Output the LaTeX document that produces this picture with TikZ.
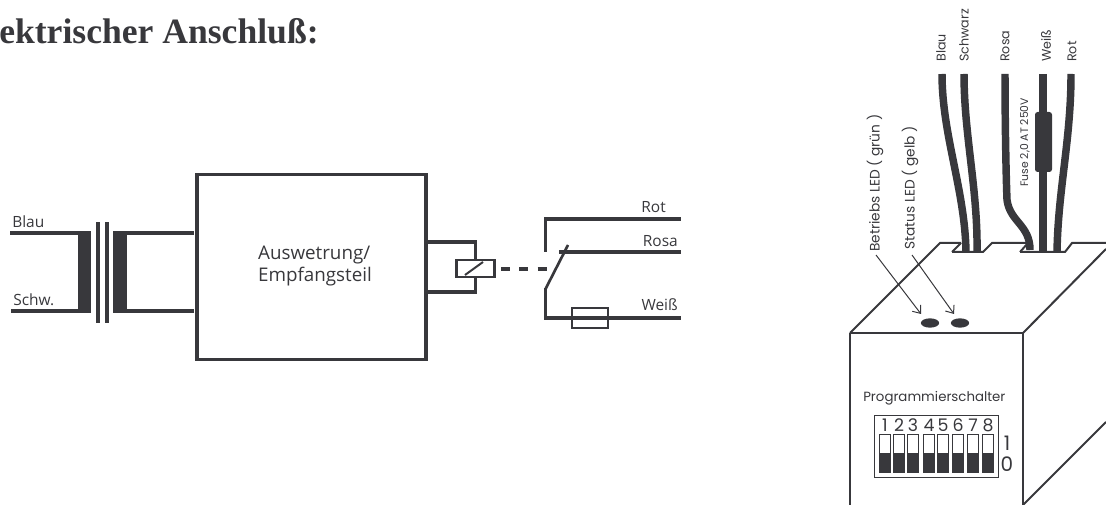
\documentclass[tikz,border=0pt]{standalone}
\usepackage{fontspec}
\setmainfont{Open Sans}
\newfontfamily\titlefont{Liberation Serif}
\newfontfamily\gothicfont{Poppins}
\usetikzlibrary{arrows.meta,shapes}
\definecolor{ink}{HTML}{38383C}
\tikzset{thin line/.style={draw=ink,line width=1.5pt},}
\tikzset{main line/.style={draw=ink,line width=2.5pt},}
\tikzset{main label/.style={text=ink,font=\fontsize{11.6}{13}\selectfont,inner sep=0pt},}
\tikzset{wire line/.style={draw=ink,line width=5.6pt},}
\tikzset{side label/.style={text=ink,font=\gothicfont\fontsize{9.5}{11}\selectfont,inner sep=0pt,rotate=90,anchor=west},}
\tikzset{led label/.style={side label,font=\gothicfont\fontsize{10.3}{12}\selectfont},}
\tikzset{dip label/.style={text=ink,font=\gothicfont\fontsize{13}{15}\selectfont,inner sep=0pt},}
\tikzset{dip off/.style={draw=ink,line width=0.6pt,fill=white,minimum width=8pt,minimum height=29pt,inner sep=0pt},}
\tikzset{led node/.style={ellipse,fill=ink,minimum width=13.7pt,minimum height=7pt,inner sep=0pt},}
\tikzset{led arrow/.style={draw=ink,line width=0.75pt,-{Straight Barb[length=5pt,width=8pt]}},}
\begin{document}
\begin{tikzpicture}[x=0.75pt,y=-0.75pt]
    \useasboundingbox (0,0) rectangle (1106,505);
    \node[inner sep=0pt,anchor=base west,text=ink,font=\titlefont\bfseries\fontsize{26.7}{30}\selectfont] (title) at (-1,44) {ektrischer Anschluß:};

    % transformer
    \node[main label,anchor=base west] (blau) at (12,228) {Blau};
    \node[main label,anchor=base west] (schw) at (13,306) {Schw.};
    \coordinate (b1) at (10,233);
    \coordinate (s1) at (11,311);
    \coordinate (b2) at (194,233);
    \coordinate (s2) at (194,311);
    \path[fill=ink] (78,232) rectangle (91,313);
    \path[fill=ink] (113,232) rectangle (127,313);
    \path[fill=ink] (96,222) rectangle (100,323);
    \path[fill=ink] (105,222) rectangle (109,323);
    \draw[main line] (b1) -- (91,233);
    \draw[main line] (s1) -- (91,311);
    \draw[main line] (113,233) -- (b2);
    \draw[main line] (113,311) -- (s2);

    % main box
    \node[draw=ink,line width=2.5pt,minimum width=171.7pt,minimum height=139pt,inner sep=0pt] (box) at (311.5,267) {};
    \node[inner sep=0pt,align=left,text=ink,font=\fontsize{14.1}{16}\selectfont] (boxtext) at (315,266) {Auswetrung/\\Empfangsteil};

    % relay
    \node[draw=ink,line width=1.8pt,fill=white,minimum width=28.5pt,minimum height=12.8pt,inner sep=0pt] (coil) at (475.5,268.5) {};
    \draw[main line] (box.east |- 0,242) -| (coil.north);
    \draw[main line] (box.east |- 0,292) -| (coil.south);
    \draw[thin line] (465,275) -- (483,262);
    \draw[draw=ink,line width=3pt,dash pattern=on 6.75pt off 7pt] (501,269) -- (547,269);

    % switch
    \coordinate (rot) at (681,219);
    \coordinate (rosa) at (681,252);
    \coordinate (weiss) at (681,318);
    \node[main label,anchor=base east] (rotl) at (666,213) {Rot};
    \node[main label,anchor=base east] (rosal) at (678,247) {Rosa};
    \node[main label,anchor=base east] (weissl) at (678,311) {Weiß};
    \draw[main line] (545.5,252) |- (rot);
    \draw[main line] (559,252) -- (rosa);
    \draw[main line,line width=2pt] (568,245) -- (545.5,289);
    \draw[main line] (545.5,288) |- (weiss);
    \node[draw=ink,line width=1.8pt,fill=white,minimum width=27pt,minimum height=15pt,inner sep=0pt] (fuse) at (590,318) {};
    \draw[main line] (fuse.west) -- (fuse.east);

    % housing
    \draw[thin line] (850,333) -- (850,505);
    \draw[thin line] (850,333) -- (1023,333);
    \draw[thin line] (1023,333) -- (1023,505);
    \draw[thin line] (850,333) -- (940,243) -- (961,243);
    \draw[thin line] (1023,333) -- (1106,249);
    \draw[thin line] (1023,505) -- (1106,422);
    \draw[thin line] (952,252) -- (961,243);
    \draw[thin line] (952,252) -- (983,252) -- (992,243) -- (1027,243);
    \draw[thin line] (1020,252) -- (1028,243);
    \draw[thin line] (1020,252) -- (1065,252) -- (1072,243) -- (1106,243);

    % wires
    \draw[wire line] (942,74) .. controls (942,135) and (965,190) .. (966,252);
    \draw[wire line] (964,74) .. controls (964,135) and (978,190) .. (977,252);
    \draw[wire line] (1005,74) .. controls (1005,120) and (1006,175) .. (1007,200) .. controls (1010,222) and (1030,225) .. (1030,250);
    \draw[wire line] (1043,74) -- (1043,252);
    \draw[wire line] (1071,74) .. controls (1071,140) and (1058,190) .. (1057,252);
    \path[fill=ink,rounded corners=2pt] (1035,112) rectangle (1052,172);

    % labels
    \node[side label] (blaus) at (941,62) {Blau};
    \node[side label] (schwarz) at (964,62) {Schwarz};
    \node[side label] (rosas) at (1005,62) {Rosa};
    \node[side label] (weisss) at (1046,62) {Weiß};
    \node[side label] (rots) at (1072,62) {Rot};
    \node[side label,font=\gothicfont\fontsize{8.1}{10}\selectfont] (fuses) at (1025,187) {Fuse 2,0 AT 250V};
    \node[led label] (betrieb) at (875,252) {Betriebs LED ( grün )};
    \node[led label] (status) at (910,250) {Status LED ( gelb )};

    % leds
    \node[led node] (led1) at (930,323) {};
    \node[led node] (led2) at (960,323) {};
    \draw[led arrow] (876,255) -- (921,314);
    \draw[led arrow] (912,255) -- (954,314);

    % dip switch
    \node[main label,anchor=base west,font=\gothicfont\fontsize{10}{12}\selectfont] (prog) at (863,402) {Programmierschalter};
    \node[draw=ink,line width=0.75pt,minimum width=93pt,minimum height=46pt,inner sep=0pt] (dip) at (936,446.5) {};
    \foreach \i/\x in {1/885,2/899,3/913,4/929,5/943,6/958,7/973,8/988} {
        \node[dip label] (n\i) at (\x,425.5) {\i};
        \node[dip off] (sw\i) at (\x,453.5) {};
        \path[fill=ink] (\x-5.3,453) rectangle (\x+5.3,473);
    }
    \node[dip label,font=\gothicfont\fontsize{15}{17}\selectfont] (one) at (1007,443) {1};
    \node[dip label,font=\gothicfont\fontsize{15}{17}\selectfont] (zero) at (1007,464) {0};
\end{tikzpicture}
\end{document}
